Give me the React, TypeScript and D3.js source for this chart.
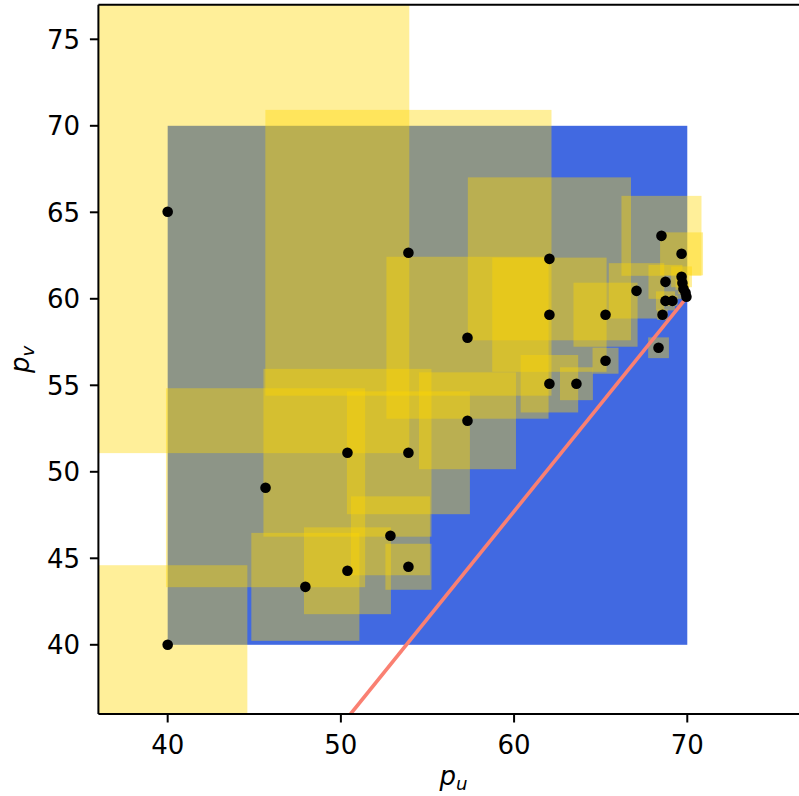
import React from "react";
import * as d3 from "d3";

// Region (blue square)
const regionU = [40, 70];
const regionV = [40, 70];

// Points (p_u, p_v) and half-size of the yellow square around each
const pointU = [40, 40, 53.9, 62.04, 62.04, 62.04, 63.6, 57.31, 57.31, 65.28, 65.28, 67.07, 68.51, 69.67, 68.74, 69.67, 69.72, 69.78, 69.9, 69.95, 68.74, 69.14, 68.57, 68.34, 50.38, 53.9, 45.65, 52.86, 50.38, 53.9, 47.95];
const pointV = [65.03, 40, 62.66, 62.31, 59.08, 55.09, 55.09, 57.75, 52.95, 59.08, 56.42, 60.46, 63.64, 62.6, 60.98, 61.27, 60.92, 60.58, 60.35, 60.12, 59.88, 59.88, 59.08, 57.17, 51.1, 51.1, 49.08, 46.3, 44.28, 44.51, 43.35];
const halfSize = [13.95, 4.6, 8.26, 4.71, 3.3, 1.66, 0.95, 4.68, 2.8, 1.85, 0.75, 1.6, 2.31, 1.24, 0.98, 0.6, 0.4, 0.3, 0.2, 0.15, 0.55, 0.3, 0.3, 0.6, 4.85, 3.55, 5.75, 2.28, 2.51, 1.33, 3.12];

// Line
const lineU = [50.56, 69.9];
const lineV = [36, 60];

// Axes
const xDomain = [36, 77];
const yDomain = [36, 77];
const xTicks = [40, 50, 60, 70];
const yTicks = [40, 45, 50, 55, 60, 65, 70, 75];

export default function App() {
  const W = 799, H = 796;
  const left = 98.4, bottom = 714;
  const x = d3.scaleLinear().domain(xDomain).range([left, left + 41 * 17.32]);
  const y = d3.scaleLinear().domain(yDomain).range([bottom, bottom - 41 * 17.3]);
  const [x0, x1] = x.range();
  const [y0, y1] = y.range();
  const font = "DejaVu Sans, sans-serif";
  const fs = 26;
  const line = d3.line<number>().x((_, i) => x(lineU[i])).y((_, i) => y(lineV[i]));

  return (
    <svg width={W} height={H} style={{ position: "absolute", left: 0, top: 0, background: "#fff" }}>
      <defs>
        <clipPath id="plot">
          <rect x={x0} y={y1} width={x1 - x0} height={y0 - y1} />
        </clipPath>
      </defs>
      <g clipPath="url(#plot)">
        <rect
          x={x(regionU[0])}
          y={y(regionV[1])}
          width={x(regionU[1]) - x(regionU[0])}
          height={y(regionV[0]) - y(regionV[1])}
          fill="#4169E1"
        />
        {pointU.map((u, i) => (
          <rect
            key={"r" + i}
            x={x(u - halfSize[i])}
            y={y(pointV[i] + halfSize[i])}
            width={x(u + halfSize[i]) - x(u - halfSize[i])}
            height={y(pointV[i] - halfSize[i]) - y(pointV[i] + halfSize[i])}
            fill="#FFD700"
            fillOpacity={0.4}
          />
        ))}
        <path d={line(lineU) || ""} stroke="#FA8072" strokeWidth={3.6} fill="none" />
        {pointU.map((u, i) => (
          <circle key={"c" + i} cx={x(u)} cy={y(pointV[i])} r={5.3} fill="#000" />
        ))}
      </g>
      {/* spines */}
      <g stroke="#000" strokeWidth={2} fill="none">
        <line x1={x0} y1={y0} x2={x1} y2={y0} />
        <line x1={x0} y1={y0} x2={x0} y2={y1} />
        <line x1={x0} y1={y1} x2={x1} y2={y1} />
        <line x1={x1} y1={y0} x2={x1} y2={y1} />
      </g>
      {xTicks.map((t) => (
        <g key={"xt" + t}>
          <line x1={x(t)} x2={x(t)} y1={y0} y2={y0 + 8.5} stroke="#000" strokeWidth={2} />
          <text x={x(t)} y={754} textAnchor="middle" fontFamily={font} fontSize={fs} fill="#000">
            {t}
          </text>
        </g>
      ))}
      {yTicks.map((t) => (
        <g key={"yt" + t}>
          <line x1={x0} x2={x0 - 8.5} y1={y(t)} y2={y(t)} stroke="#000" strokeWidth={2} />
          <text x={80} y={y(t) + 9.5} textAnchor="end" fontFamily={font} fontSize={fs} fill="#000">
            {t}
          </text>
        </g>
      ))}
      <text x={(x0 + x1) / 2} y={785} textAnchor="middle" fontFamily={font} fontSize={fs} fill="#000">
        <tspan fontStyle="italic">p</tspan>
        <tspan fontStyle="italic" fontSize={fs * 0.7} dy={5}>u</tspan>
      </text>
      <text
        transform={`translate(29, ${(y0 + y1) / 2}) rotate(-90)`}
        textAnchor="middle"
        fontFamily={font}
        fontSize={fs}
        fill="#000"
      >
        <tspan fontStyle="italic">p</tspan>
        <tspan fontStyle="italic" fontSize={fs * 0.7} dy={5}>v</tspan>
      </text>
    </svg>
  );
}
